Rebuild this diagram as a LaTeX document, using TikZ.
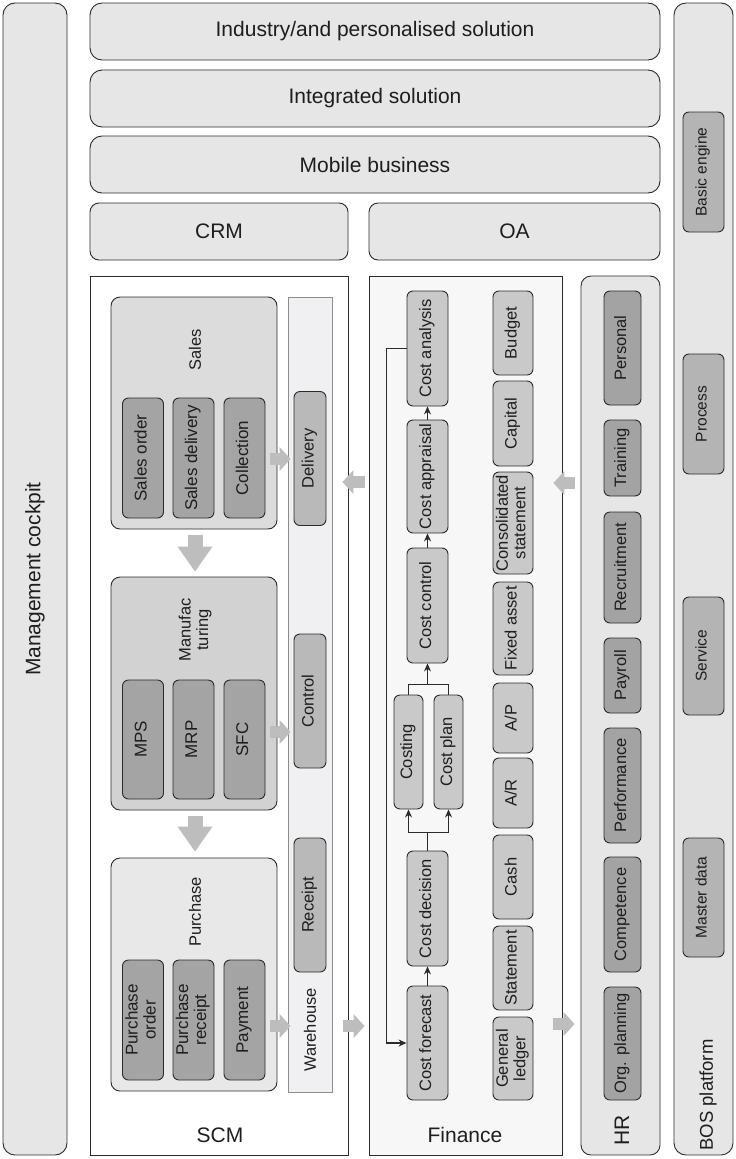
\documentclass[tikz,border=0pt]{standalone}
\usepackage{fontspec}
\setmainfont{Liberation Sans}
\usepackage{graphicx}
\usepackage{tikz}
\usetikzlibrary{arrows.meta,calc,positioning}
\definecolor{edgeCol}{HTML}{2B2B2B}
\definecolor{txtCol}{HTML}{1E1E1E}
\definecolor{paleCol}{HTML}{E6E6E6}
\definecolor{salesCol}{HTML}{DCDCDC}
\definecolor{manuCol}{HTML}{D2D2D2}
\definecolor{purchCol}{HTML}{E8E8E8}
\definecolor{scmSub}{HTML}{A4A4A4}
\definecolor{whsCol}{HTML}{F0F0F2}
\definecolor{whsEdge}{HTML}{8C8C8C}
\definecolor{whSub}{HTML}{B9B9B9}
\definecolor{finBg}{HTML}{F7F7F7}
\definecolor{finSub}{HTML}{C9C9C9}
\definecolor{hrSub}{HTML}{A3A3A3}
\definecolor{bosSub}{HTML}{B4B4B4}
\definecolor{arrCol}{HTML}{BDBDBD}
\newcommand{\bigfont}{\fontsize{21}{24}\selectfont}
\newcommand{\subfont}{\fontsize{16.5}{17.5}\selectfont}
\newcommand{\scmfont}{\fontsize{17}{18}\selectfont}
\newcommand{\bossfont}{\fontsize{15.5}{16}\selectfont}
\newcommand{\vt}[1]{\rotatebox{90}{\begin{tabular}{@{}c@{}}#1\end{tabular}}}
\tikzset{
  every node/.append style={text=txtCol},
  panel/.style={draw=edgeCol, fill=paleCol, rounded corners=12pt, line width=0.9pt, inner sep=0pt, font=\bigfont},
  tier/.style={panel, rounded corners=9pt},
  col/.style={draw=edgeCol, line width=0.9pt, inner sep=0pt},            % SCM / Finance frames
  grp/.style={draw=edgeCol, rounded corners=9pt, line width=0.9pt, inner sep=0pt},
  sub/.style={draw=edgeCol, rounded corners=6pt, line width=0.9pt, inner sep=0pt, font=\subfont},
  scmsub/.style={sub, fill=scmSub, font=\scmfont},
  finsub/.style={sub, fill=finSub},
  hrsub/.style={sub, fill=hrSub},
  bossub/.style={sub, fill=bosSub, font=\bossfont},
  whsub/.style={sub, fill=whSub},
  lbl/.style={inner sep=0pt, font=\subfont, align=center},
  biglbl/.style={inner sep=0pt, font=\bigfont},
  sz/.style 2 args={minimum width=#1pt, minimum height=#2pt},
  flow/.style={-{Stealth[length=8pt,width=7pt]}, line width=1.1pt, draw=edgeCol}, % cost chain
  link/.style={line width=1.1pt, draw=edgeCol},
  fatR/.style={draw=arrCol, line width=12pt, -{Triangle[length=11pt,width=24pt,line width=0pt]}},  % data handover
  fatD/.style={draw=arrCol, line width=15pt, -{Triangle[length=25pt,width=35pt,line width=0pt]}},
}

\begin{document}
\begin{tikzpicture}[x=1pt,y=-1pt]
  \useasboundingbox (0,0) rectangle (736,1159);

  % outer columns
  \node[panel, sz={64}{1152}] (cockpit) at (35,579) {\rotatebox{90}{Management cockpit}};
  \node[panel, sz={59}{1152}] (bos) at (703.5,579) {};
  \node[biglbl, rotate=90, font=\fontsize{18.5}{20}\selectfont] (bosL) at (708,1095) {BOS platform};
  \foreach \nm/\yc/\hh/\txt in {engine/172/120/Basic engine, process/414/120/Process,
                                service/656/118/Service, master/897.5/119/Master data}
    \node[bossub, sz={41}{\hh}] (\nm) at (703.5,\yc) {\vt{\txt}};

  % tiers
  \node[tier, rounded corners=12pt, sz={570}{57}] (indus) at (375,31.5) {Industry/and personalised solution};
  \node[tier, rounded corners=12pt, sz={570}{57}] (integ) at (375,98.5) {Integrated solution};
  \node[tier, rounded corners=12pt, sz={570}{57}] (mobile) at (375,164.5) {Mobile business};
  \node[tier, sz={258}{57}] (crm) at (219,231.5) {CRM};
  \node[tier, sz={291}{57}] (oa) at (514.5,231.5) {OA};

  % SCM
  \node[col, fill=white, sz={258}{879}] (scm) at (219,715.5) {};
  \node[biglbl] (scmL) at (220,1135) {SCM};
  \node[col, draw=whsEdge, fill=whsCol, sz={44}{795}] (whs) at (310,694.5) {};
  \node[lbl, rotate=90] (whsL) at (310,1030) {Warehouse};
  \foreach \nm/\yc/\txt in {deliv/458.5/Delivery, wctrl/701/Control, rcpt/905/Receipt}
    \node[whsub, sz={32}{134}] (\nm) at (310,\yc) {\vt{\txt}};

  \node[grp, fill=salesCol, sz={166}{232}] (sales) at (194,413) {};
  \node[lbl, rotate=90] (salesL) at (195,350) {Sales};
  \node[grp, fill=manuCol, sz={166}{233}] (manu) at (194,693.5) {};
  \node[lbl, rotate=90] (manuL) at (195,630) {Manufac\\turing};
  \node[grp, fill=purchCol, sz={166}{233}] (purch) at (194,974.5) {};
  \node[lbl, rotate=90] (purchL) at (195,912) {Purchase};

  \foreach \nm/\xc/\txt in {sord/143/Sales order, sdel/193.5/Sales delivery, coll/244.5/Collection}
    \node[scmsub, sz={41}{120}] (\nm) at (\xc,458) {\vt{\txt}};
  \foreach \nm/\xc/\txt in {mps/143/MPS, mrp/193.5/MRP, sfc/244.5/SFC}
    \node[scmsub, sz={41}{119}] (\nm) at (\xc,739.5) {\vt{\txt}};
  \foreach \nm/\xc/\txt in {pord/143/{Purchase\\order}, prec/193.5/{Purchase\\receipt}, pay/244.5/Payment}
    \node[scmsub, sz={41}{120}] (\nm) at (\xc,1020) {\vt{\txt}};

  % Finance
  \node[col, fill=finBg, sz={193}{879}] (fin) at (465.5,715.5) {};
  \node[biglbl] (finL) at (465,1135) {Finance};
  \foreach \nm/\yc/\hh/\txt in {anal/348.5/115/Cost analysis, appr/476.5/113/Cost appraisal,
                                cctrl/605.5/115/Cost control, deci/908.5/115/Cost decision,
                                fore/1043/114/Cost forecast}
    \node[finsub, sz={41}{\hh}] (\nm) at (427.5,\yc) {\vt{\txt}};
  \node[finsub, sz={29}{114}] (cstg) at (408.5,752) {\vt{Costing}};
  \node[finsub, sz={29}{114}] (cpln) at (448.5,752) {\vt{Cost plan}};
  \foreach \nm/\yc/\hh/\txt in {bud/333/84/Budget, capi/423.5/85/Capital,
                                cons/523/102/{Consolidated\\statement}, fixa/628.5/93/Fixed asset,
                                ap/718/70/{A/P}, ar/793/70/{A/R}, cash/877/84/Cash,
                                stmt/968/84/Statement, gled/1058.5/83/{General\\ledger}}
    \node[finsub, sz={40}{\hh}] (\nm) at (513,\yc) {\vt{\txt}};

  % HR
  \node[panel, rounded corners=10pt, sz={79}{879}] (hr) at (620.5,715.5) {};
  \node[biglbl, rotate=90] (hrL) at (622,1130) {HR};
  \foreach \nm/\yc/\hh/\txt in {pers/348/114/Personal, train/458/76/Training,
                                recr/567.5/111/Recruitment, payr/675.5/75/Payroll,
                                perf/785.5/115/Performance, comp/914.5/115/Competence,
                                orgp/1043.5/113/Org. planning}
    \node[hrsub, sz={37}{\hh}] (\nm) at (622.5,\yc) {\vt{\txt}};

  % cost chain
  \draw[flow] (fore) -- (deci);
  \coordinate (split) at ($(deci.north)+(0,-18)$);
  \draw[link] (deci.north) -- (split);
  \draw[flow] (split) -| (cstg.south);
  \draw[flow] (split) -| (cpln.south);
  \coordinate (merge) at ($(cctrl.south)+(0,21)$);
  \draw[link] (cstg.north) |- (merge);
  \draw[link] (cpln.north) |- (merge);
  \draw[flow] (merge) -- (cctrl.south);
  \draw[flow] (cctrl) -- (appr);
  \draw[flow] (appr) -- (anal);
  \draw[flow] (anal.west) -- ++(-20,0) |- (fore.west);

  % block arrows
  \draw[fatR] ($(coll.east)+(5,1)$) -- ($(coll.east -| whs.west)+(3,1)$);
  \draw[fatR] ($(sfc.east)+(5,-7.5)$) -- ($(sfc.east -| whs.west)+(3,-7.5)$);
  \draw[fatR] ($(pay.east)+(5,6)$) -- ($(pay.east -| whs.west)+(3,6)$);
  \draw[fatD] ($(sales.south)+(1,6)$) -- ($(manu.north)+(1,-5)$);
  \draw[fatD] ($(manu.south)+(1,6)$) -- ($(purch.north)+(1,-6)$);
  \draw[fatR] ($(fin.west |- appr)+(-4,5.5)$) -- ($(scm.east |- appr)+(-6,5.5)$);
  \draw[fatR] ($(hr.west |- appr)+(-6,6.5)$) -- ($(fin.east |- appr)+(-9,6.5)$);
  \draw[fatR] ($(scm.east |- fore)+(-5,-17)$) -- ($(fin.west |- fore)+(-4,-17)$);
  \draw[fatR] ($(fin.east |- fore)+(-9,-19)$) -- ($(hr.west |- fore)+(-6,-19)$);
\end{tikzpicture}
\end{document}
